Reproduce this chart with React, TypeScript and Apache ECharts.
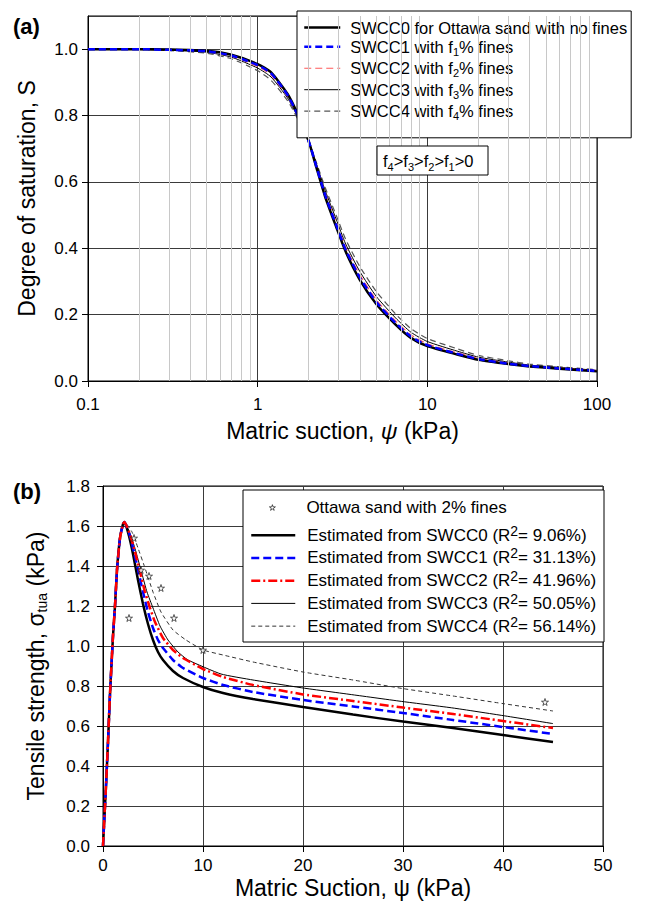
import React, { useEffect, useRef } from "react";
import * as echarts from "echarts";

const fontFamily = "'Liberation Sans', Arial, Helvetica, sans-serif";

// ---------- Panel (a): soil-water characteristic curves ----------
const suctionA = [0.1, 0.2, 0.3, 0.5, 0.7, 1.0, 1.2, 1.5, 1.7, 2.0, 2.2, 2.5, 2.9, 3.3, 4.0, 5.0, 6.5, 8.0, 10, 15, 20, 30, 40, 60, 100];
const swcc0 = [1.0, 1.0, 0.999, 0.995, 0.983, 0.955, 0.93, 0.865, 0.81, 0.722, 0.65, 0.555, 0.465, 0.39, 0.305, 0.232, 0.17, 0.13, 0.105, 0.08, 0.064, 0.051, 0.044, 0.037, 0.029];
const swcc1 = [1.0, 1.0, 0.998, 0.994, 0.981, 0.952, 0.927, 0.862, 0.808, 0.722, 0.653, 0.56, 0.471, 0.396, 0.312, 0.238, 0.175, 0.134, 0.108, 0.082, 0.066, 0.052, 0.045, 0.038, 0.03];
const swcc2 = [1.0, 1.0, 0.998, 0.993, 0.979, 0.948, 0.922, 0.858, 0.805, 0.722, 0.656, 0.566, 0.478, 0.403, 0.32, 0.245, 0.181, 0.139, 0.112, 0.085, 0.068, 0.054, 0.046, 0.039, 0.031];
const swcc3 = [1.0, 0.999, 0.997, 0.991, 0.976, 0.943, 0.916, 0.853, 0.801, 0.722, 0.66, 0.574, 0.488, 0.413, 0.33, 0.255, 0.19, 0.147, 0.119, 0.09, 0.072, 0.057, 0.048, 0.041, 0.032];
const swcc4 = [1.0, 0.999, 0.996, 0.988, 0.971, 0.935, 0.906, 0.845, 0.795, 0.722, 0.664, 0.583, 0.5, 0.427, 0.345, 0.27, 0.202, 0.158, 0.128, 0.097, 0.077, 0.061, 0.051, 0.043, 0.034];
const namesA = [
  "SWCC0 for Ottawa sand with no fines",
  "SWCC1 with f1% fines",
  "SWCC2 with f2% fines",
  "SWCC3 with f3% fines",
  "SWCC4 with f4% fines",
];
const minorGridA = [0.2, 0.3, 0.4, 0.5, 0.6, 0.7, 0.8, 0.9, 2, 3, 4, 5, 6, 7, 8, 9, 20, 30, 40, 50, 60, 70, 80, 90];

// ---------- Panel (b): tensile strength ----------
const est0Psi = [0, 0.1, 0.3, 0.5, 0.7, 1.0, 1.2, 1.4, 1.7, 2.0, 2.15, 2.6, 3.0, 3.5, 4.0, 4.5, 5.0, 5.5, 6, 7, 8, 10, 12, 15, 20, 25, 30, 35, 40, 45];
const est0Sig = [0, 0.1, 0.3, 0.52, 0.76, 1.05, 1.2, 1.38, 1.54, 1.61, 1.62, 1.55, 1.46, 1.33, 1.21, 1.11, 1.03, 0.97, 0.93, 0.875, 0.84, 0.795, 0.765, 0.735, 0.695, 0.657, 0.622, 0.59, 0.555, 0.52];
const est1Psi = [0, 0.1, 0.3, 0.5, 0.7, 1.0, 1.2, 1.4, 1.7, 2.0, 2.15, 2.7, 3.1, 3.6, 4.0, 4.5, 5.0, 5.5, 6, 7, 8, 10, 12, 15, 20, 25, 30, 35, 40, 45];
const est1Sig = [0, 0.1, 0.3, 0.52, 0.76, 1.05, 1.2, 1.38, 1.54, 1.61, 1.62, 1.55, 1.47, 1.36, 1.27, 1.17, 1.09, 1.03, 0.99, 0.93, 0.89, 0.84, 0.805, 0.77, 0.73, 0.698, 0.665, 0.63, 0.595, 0.56];
const est2Psi = [0, 0.1, 0.3, 0.5, 0.7, 1.0, 1.2, 1.4, 1.7, 2.0, 2.15, 2.75, 3.2, 3.7, 4.2, 4.7, 5.2, 6, 7, 8, 10, 12, 15, 20, 25, 30, 35, 40, 45];
const est2Sig = [0, 0.1, 0.3, 0.52, 0.76, 1.05, 1.2, 1.38, 1.54, 1.61, 1.62, 1.55, 1.47, 1.37, 1.27, 1.19, 1.12, 1.04, 0.98, 0.94, 0.885, 0.845, 0.805, 0.758, 0.725, 0.692, 0.66, 0.625, 0.59];
const est3Psi = [0, 0.1, 0.3, 0.5, 0.7, 1.0, 1.2, 1.4, 1.7, 2.0, 2.15, 2.8, 3.3, 3.9, 4.4, 5.0, 5.7, 6.5, 7.5, 8.5, 11.8, 15, 20, 25, 30, 35, 40, 45];
const est3Sig = [0, 0.1, 0.3, 0.52, 0.76, 1.05, 1.2, 1.38, 1.54, 1.61, 1.62, 1.55, 1.47, 1.36, 1.27, 1.19, 1.1, 1.03, 0.97, 0.93, 0.86, 0.83, 0.79, 0.756, 0.722, 0.69, 0.652, 0.612];
const est4Psi = [0, 0.1, 0.3, 0.5, 0.7, 1.0, 1.2, 1.4, 1.7, 2.0, 2.15, 2.9, 3.5, 4.2, 5.0, 5.8, 7, 8.3, 10, 12, 15, 20, 25, 30, 35, 40, 45];
const est4Sig = [0, 0.1, 0.3, 0.52, 0.76, 1.05, 1.2, 1.38, 1.54, 1.61, 1.62, 1.57, 1.49, 1.39, 1.27, 1.17, 1.08, 1.03, 0.98, 0.955, 0.92, 0.87, 0.83, 0.787, 0.75, 0.712, 0.675];
const testPsi = [3.1, 3.8, 4.6, 5.8, 2.6, 7.1, 10.0, 44.2];
const testSig = [1.54, 1.38, 1.35, 1.29, 1.14, 1.14, 0.98, 0.72];
const testName = "Ottawa sand with 2% fines";
const namesB = [
  "Estimated from SWCC0 (R2= 9.06%)",
  "Estimated from SWCC1 (R2= 31.13%)",
  "Estimated from SWCC2 (R2= 41.96%)",
  "Estimated from SWCC3 (R2= 50.05%)",
  "Estimated from SWCC4 (R2= 56.14%)",
];

const zip = (xs: number[], ys: number[]) => xs.map((x, i) => [x, ys[i]]);
const starPath = "path://M50 0 L61 35 L98 35 L68 57 L79 91 L50 70 L21 91 L32 57 L2 35 L39 35 Z";

export default function App() {
  const ref = useRef<HTMLDivElement>(null);
  useEffect(() => {
    if (!ref.current) return;
    const chart = echarts.init(ref.current, undefined, { renderer: "svg" });
    const axisLine = { show: true, onZero: false, lineStyle: { color: "#000", width: 1 } };
    const axisTick = { show: true, inside: false, length: 6, lineStyle: { color: "#000", width: 1 } };
    const major = { show: true, lineStyle: { color: "#3a3a3a", width: 1 } };
    const lab = (size: number, margin: number, extra: any = {}) => ({ color: "#000", fontSize: size, fontFamily, margin, ...extra });
    const nameSize = 23;

    const richA = {
      a: { fontSize: 16.5, lineHeight: 21.3, fontFamily, color: "#000", padding: [0, 0, 0, 5] },
      t: { fontSize: 16.5, lineHeight: 21.3, fontFamily, color: "#000" },
      s: { fontSize: 11, fontFamily, color: "#000", verticalAlign: "bottom" },
    };
    const richB = {
      a: { fontSize: 17, lineHeight: 23.3, fontFamily, color: "#000", padding: [0, 0, 0, 7] },
      t: { fontSize: 17, lineHeight: 23.3, fontFamily, color: "#000" },
      p: { fontSize: 14, fontFamily, color: "#000", verticalAlign: "top" },
    };
    const legendLine = { width: "inherit", type: "inherit", color: "inherit" };
    const lineSeries = (name: string, xi: number, data: number[][], color: string, width: number, type: any, smooth: number) => ({
      type: "line", name, xAxisIndex: xi, yAxisIndex: xi, symbol: "none", smooth, data,
      lineStyle: { color, width, type },
      itemStyle: { color, opacity: 0 },
    });

    const option: any = {
      animation: false,
      textStyle: { fontFamily },
      grid: [
        { left: 88, right: 49, top: 16, bottom: 528, show: true, borderColor: "#000", borderWidth: 1 },
        { left: 103, right: 43, top: 486, bottom: 63, show: true, borderColor: "#000", borderWidth: 1 },
      ],
      xAxis: [
        {
          type: "log", gridIndex: 0, logBase: 10, min: 0.1, max: 100,
          axisLine, axisTick, splitLine: major,
          axisLabel: lab(17, 15, { formatter: (v: number) => (v < 1 ? v.toFixed(1) : String(Math.round(v))) }),
          name: "Matric suction, {i|ψ} (kPa)", nameLocation: "middle", nameGap: 38,
          nameTextStyle: { fontSize: nameSize, color: "#000", fontFamily, rich: { i: { fontSize: nameSize, fontStyle: "italic", fontFamily, color: "#000" } } },
        },
        {
          type: "value", gridIndex: 1, min: 0, max: 50, interval: 10,
          axisLine, axisTick, splitLine: major,
          axisLabel: lab(17, 11),
          name: "Matric Suction, ψ (kPa)", nameLocation: "middle", nameGap: 30,
          nameTextStyle: { fontSize: nameSize, color: "#000", fontFamily },
        },
      ],
      yAxis: [
        {
          type: "value", gridIndex: 0, min: 0, max: 1.1, interval: 0.2,
          axisLine, axisTick, splitLine: major,
          axisLabel: lab(17, 10, { formatter: (v: number) => v.toFixed(1), showMaxLabel: false }),
          name: "Degree of saturation, S", nameLocation: "middle", nameGap: 50,
          nameTextStyle: { fontSize: nameSize, color: "#000", fontFamily },
        },
        {
          type: "value", gridIndex: 1, min: 0, max: 1.8, interval: 0.2,
          axisLine, axisTick, splitLine: major,
          axisLabel: lab(17, 13, { formatter: (v: number) => v.toFixed(1) }),
          name: "Tensile strength, σ{s|tua} (kPa)", nameLocation: "middle", nameGap: 54,
          nameTextStyle: {
            fontSize: nameSize, color: "#000", fontFamily, lineHeight: 26,
            rich: { s: { fontSize: 14, lineHeight: 8, verticalAlign: "bottom", fontFamily, color: "#000" } },
          },
        },
      ],
      legend: [
        {
          orient: "vertical", left: 297, top: 11, padding: [8, 4, 16, 6],
          backgroundColor: "#fff", borderColor: "#000", borderWidth: 1,
          itemWidth: 36, itemHeight: 14, itemGap: 2.3, selectedMode: false,
          itemStyle: { opacity: 0 }, lineStyle: legendLine,
          data: namesA,
          formatter: (name: string) => {
            const m = name.match(/^(.*f)(\d)(% fines)$/);
            return m ? `{a|${m[1]}}{s|${m[2]}}{t|${m[3]}}` : `{a|${name}}`;
          },
          textStyle: { fontSize: 16.5, fontFamily, color: "#000", rich: richA },
        },
        {
          orient: "vertical", left: 250, top: 523.5, padding: 0,
          itemWidth: 44, itemHeight: 14, itemGap: 2.6, selectedMode: false,
          itemStyle: { opacity: 0 }, lineStyle: legendLine,
          data: namesB,
          formatter: (name: string) => {
            const m = name.match(/^(.*\(R)2(= .*)$/);
            return m ? `{a|${m[1]}}{p|2}{t|${m[2]}}` : `{a|${name}}`;
          },
          textStyle: { fontSize: 17, fontFamily, color: "#000", rich: richB },
        },
        {
          orient: "vertical", left: 269, top: 499, padding: 0,
          itemWidth: 6, itemHeight: 6, selectedMode: false,
          itemStyle: { color: "#fff", borderColor: "#000", borderWidth: 0.8 },
          data: [testName],
          formatter: (name: string) => `{a|${name}}`,
          textStyle: { fontSize: 17, fontFamily, color: "#000", rich: { a: { fontSize: 17, lineHeight: 12, fontFamily, color: "#000", padding: [0, 0, 0, 26] } } },
        },
      ],
      graphic: [
        { type: "text", x: 13, y: 15, style: { text: "(a)", fontSize: 22, fontWeight: "bold", fontFamily, fill: "#000", verticalAlign: "top" } },
        { type: "text", x: 13, y: 480, style: { text: "(b)", fontSize: 22, fontWeight: "bold", fontFamily, fill: "#000", verticalAlign: "top" } },
        { type: "rect", z: 10, shape: { x: 377, y: 146, width: 111, height: 29 }, style: { fill: "#fff", stroke: "#000", lineWidth: 1 } },
        {
          type: "text", z: 11, x: 383, y: 161,
          style: {
            text: "{t|f}{s|4}{t|>f}{s|3}{t|>f}{s|2}{t|>f}{s|1}{t|>0}",
            verticalAlign: "middle", fill: "#000", fontFamily, fontSize: 16.5,
            rich: {
              t: { fontSize: 16.5, lineHeight: 22, fontFamily, fill: "#000" },
              s: { fontSize: 11, verticalAlign: "bottom", fontFamily, fill: "#000" },
            },
          },
        },
        { type: "rect", z: 3, shape: { x: 243, y: 490, width: 361, height: 152 }, style: { fill: "#fff", stroke: "#000", lineWidth: 1 } },
      ],
      series: [
        {
          type: "line", name: "minor grid", xAxisIndex: 0, yAxisIndex: 0, data: [], z: 1, silent: true,
          markLine: {
            silent: true, symbol: "none", label: { show: false }, animation: false,
            lineStyle: { color: "#c8c8c8", width: 1, type: "solid" },
            data: minorGridA.map((v) => ({ xAxis: v })),
          },
        },
        lineSeries(namesA[4], 0, zip(suctionA, swcc4), "#555", 1.2, [6, 4], 0.2),
        lineSeries(namesA[3], 0, zip(suctionA, swcc3), "#000", 1, "solid", 0.2),
        lineSeries(namesA[2], 0, zip(suctionA, swcc2), "#ff5a5a", 1.2, [7, 4], 0.2),
        lineSeries(namesA[0], 0, zip(suctionA, swcc0), "#000", 2.5, "solid", 0.2),
        lineSeries(namesA[1], 0, zip(suctionA, swcc1), "#0000ff", 2.5, [7, 4], 0.2),

        lineSeries(namesB[4], 1, zip(est4Psi, est4Sig), "#333", 1, [4, 3], 0.15),
        lineSeries(namesB[3], 1, zip(est3Psi, est3Sig), "#000", 1, "solid", 0.15),
        lineSeries(namesB[0], 1, zip(est0Psi, est0Sig), "#000", 2.5, "solid", 0.15),
        lineSeries(namesB[1], 1, zip(est1Psi, est1Sig), "#0000ff", 2.5, [8, 4], 0.15),
        lineSeries(namesB[2], 1, zip(est2Psi, est2Sig), "#ff0000", 2.5, [9, 3, 2, 3], 0.15),
        {
          type: "scatter", name: testName, xAxisIndex: 1, yAxisIndex: 1, z: 5,
          symbol: starPath, symbolSize: 7, data: zip(testPsi, testSig),
          itemStyle: { color: "#fff", borderColor: "#000", borderWidth: 0.8 },
        },
      ],
    };
    chart.setOption(option);
    return () => chart.dispose();
  }, []);
  return <div ref={ref} style={{ position: "absolute", left: 0, top: 0, width: 646, height: 909, background: "#fff" }} />;
}
